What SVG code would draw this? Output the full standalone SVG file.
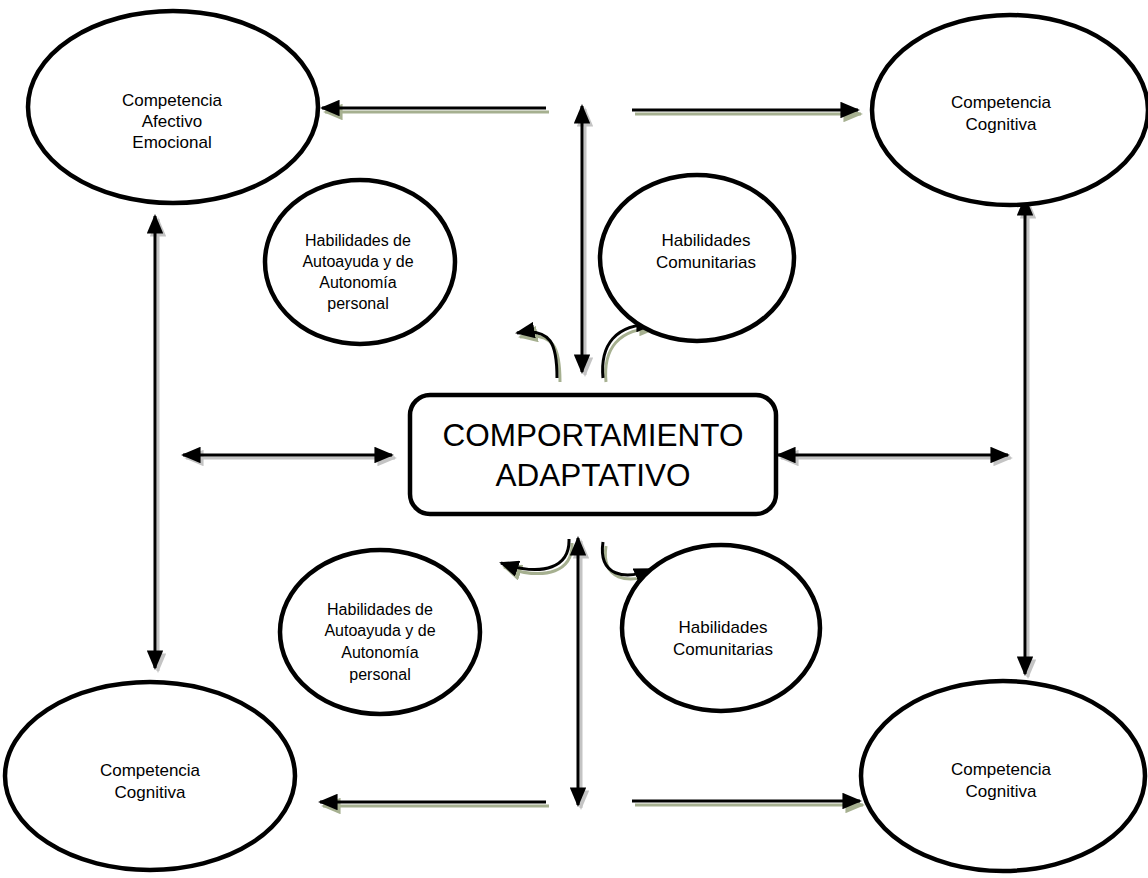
<svg xmlns="http://www.w3.org/2000/svg" width="1148" height="878" viewBox="0 0 1148 878">
<style>
.node{fill:#fff;stroke:#000;stroke-width:4.5}
.t{font-family:"Liberation Sans",Arial,sans-serif;fill:#000;text-anchor:middle}
.big{font-size:17px}
.sm{font-size:16px}
.ln{fill:none;stroke:#000;stroke-width:3}
.sg{fill:none;stroke:#c4c4c4;stroke-width:3}
.so{fill:none;stroke:#a6b090;stroke-width:3}
</style>
<defs>
<marker id="a" viewBox="0 0 10 10" refX="9" refY="5" markerWidth="6.5" markerHeight="5.5" orient="auto-start-reverse" markerUnits="strokeWidth" preserveAspectRatio="none"><path d="M0,0L10,5L0,10z" fill="#000"/></marker>
<marker id="ag" viewBox="0 0 10 10" refX="9" refY="5" markerWidth="6.5" markerHeight="5.5" orient="auto-start-reverse" markerUnits="strokeWidth" preserveAspectRatio="none"><path d="M0,0L10,5L0,10z" fill="#c4c4c4"/></marker>
<marker id="ao" viewBox="0 0 10 10" refX="9" refY="5" markerWidth="6.5" markerHeight="5.5" orient="auto-start-reverse" markerUnits="strokeWidth" preserveAspectRatio="none"><path d="M0,0L10,5L0,10z" fill="#a6b090"/></marker>
</defs>
<rect width="1148" height="878" fill="#fff"/>
<g id="connectors">
<g transform="translate(3,4)">
<path class="so" d="M546,108L322,108" marker-end="url(#ao)"/>
<path class="so" d="M632,110L858,110" marker-end="url(#ao)"/>
<path class="so" d="M546,802L320,802" marker-end="url(#ao)"/>
<path class="so" d="M632,801L860,801" marker-end="url(#ao)"/>
<path class="so" d="M557,378C557,345 552,327 517,333" marker-end="url(#ao)"/>
<path class="so" d="M603,378C600,345 615,324 654,324" marker-end="url(#ao)"/>
<path class="so" d="M569,539C570,566 545,578 501,563" marker-end="url(#ao)"/>
<path class="so" d="M603,542C598,576 625,581 652,569" marker-end="url(#ao)"/>
</g>
<g transform="translate(3,3)">
<path class="sg" d="M582,106L582,372" marker-start="url(#ag)" marker-end="url(#ag)"/>
<path class="sg" d="M578,538L578,805" marker-start="url(#ag)" marker-end="url(#ag)"/>
<path class="sg" d="M155,216L155,668" marker-start="url(#ag)" marker-end="url(#ag)"/>
<path class="sg" d="M1025,198L1025,674" marker-start="url(#ag)" marker-end="url(#ag)"/>
<path class="sg" d="M183,455L392,455" marker-start="url(#ag)" marker-end="url(#ag)"/>
<path class="sg" d="M778,455L1008,455" marker-start="url(#ag)" marker-end="url(#ag)"/>
</g>
<path class="ln" d="M546,108L322,108" marker-end="url(#a)"/>
<path class="ln" d="M632,110L858,110" marker-end="url(#a)"/>
<path class="ln" d="M546,802L320,802" marker-end="url(#a)"/>
<path class="ln" d="M632,801L860,801" marker-end="url(#a)"/>
<path class="ln" d="M557,378C557,345 552,327 517,333" marker-end="url(#a)"/>
<path class="ln" d="M603,378C600,345 615,324 654,324" marker-end="url(#a)"/>
<path class="ln" d="M569,539C570,566 545,578 501,563" marker-end="url(#a)"/>
<path class="ln" d="M603,542C598,576 625,581 652,569" marker-end="url(#a)"/>
<path class="ln" d="M582,106L582,372" marker-start="url(#a)" marker-end="url(#a)"/>
<path class="ln" d="M578,538L578,805" marker-start="url(#a)" marker-end="url(#a)"/>
<path class="ln" d="M155,216L155,668" marker-start="url(#a)" marker-end="url(#a)"/>
<path class="ln" d="M1025,198L1025,674" marker-start="url(#a)" marker-end="url(#a)"/>
<path class="ln" d="M183,455L392,455" marker-start="url(#a)" marker-end="url(#a)"/>
<path class="ln" d="M778,455L1008,455" marker-start="url(#a)" marker-end="url(#a)"/>
</g>
<g id="afectivo">
<ellipse class="node" cx="173" cy="107" rx="145" ry="96"/>
<text class="t big" x="172" y="106">Competencia</text>
<text class="t big" x="172" y="127">Afectivo</text>
<text class="t big" x="172" y="148">Emocional</text>
</g>
<g id="cognitiva-tr">
<ellipse class="node" cx="1010" cy="110" rx="138" ry="95"/>
<text class="t big" x="1001" y="108">Competencia</text>
<text class="t big" x="1001" y="130">Cognitiva</text>
</g>
<g id="autoayuda-top">
<ellipse class="node" cx="360" cy="262" rx="95" ry="82"/>
<text class="t sm" x="358" y="246">Habilidades de</text>
<text class="t sm" x="358" y="267">Autoayuda y de</text>
<text class="t sm" x="358" y="288">Autonomía</text>
<text class="t sm" x="358" y="309">personal</text>
</g>
<g id="comunitarias-top">
<ellipse class="node" cx="697" cy="258" rx="97" ry="83"/>
<text class="t big" x="706" y="246">Habilidades</text>
<text class="t big" x="706" y="268">Comunitarias</text>
</g>
<g id="comportamiento">
<rect class="node" x="410" y="395" width="366" height="119" rx="20"/>
<text class="t" style="font-size:31.5px" x="593" y="446">COMPORTAMIENTO</text>
<text class="t" style="font-size:31.5px" x="593" y="486">ADAPTATIVO</text>
</g>
<g id="autoayuda-bottom">
<ellipse class="node" cx="380" cy="632" rx="100" ry="82"/>
<text class="t sm" x="380" y="615">Habilidades de</text>
<text class="t sm" x="380" y="636">Autoayuda y de</text>
<text class="t sm" x="380" y="658">Autonomía</text>
<text class="t sm" x="380" y="680">personal</text>
</g>
<g id="comunitarias-bottom">
<ellipse class="node" cx="721" cy="628" rx="99" ry="83"/>
<text class="t big" x="723" y="633">Habilidades</text>
<text class="t big" x="723" y="655">Comunitarias</text>
</g>
<g id="cognitiva-bl">
<ellipse class="node" cx="150" cy="776" rx="145" ry="94"/>
<text class="t big" x="150" y="776">Competencia</text>
<text class="t big" x="150" y="798">Cognitiva</text>
</g>
<g id="cognitiva-br">
<ellipse class="node" cx="1003" cy="776" rx="142" ry="95"/>
<text class="t big" x="1001" y="775">Competencia</text>
<text class="t big" x="1001" y="797">Cognitiva</text>
</g>
</svg>
